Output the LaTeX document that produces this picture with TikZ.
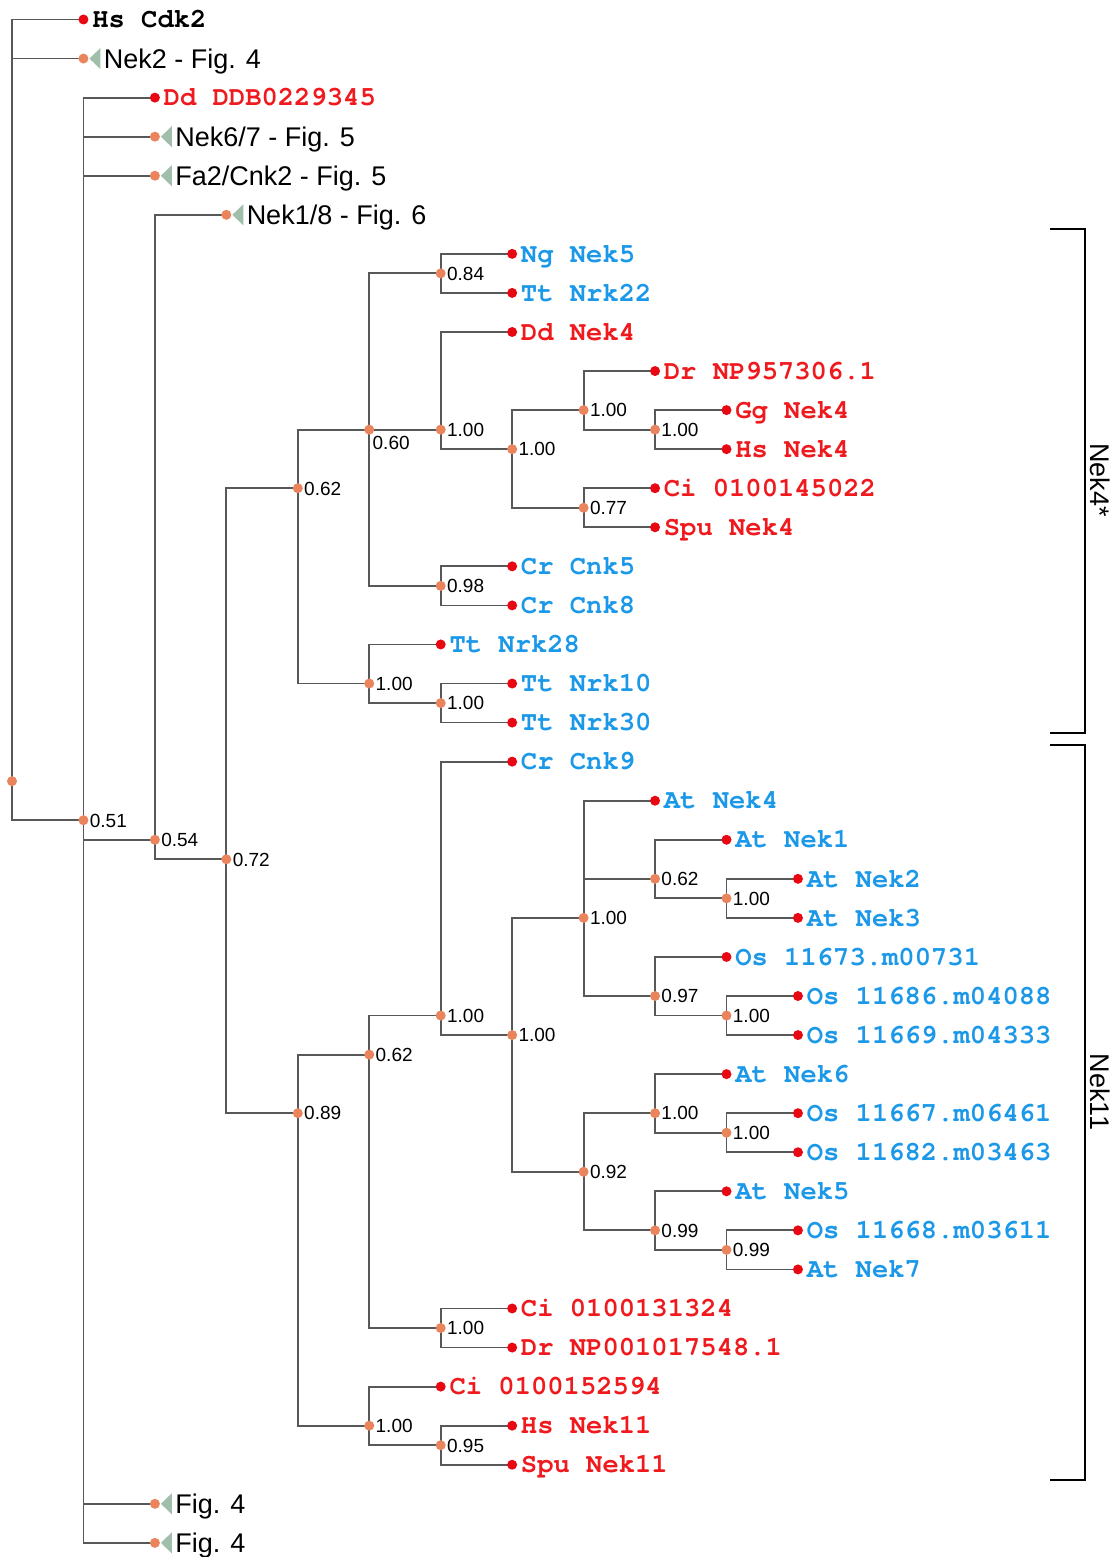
\documentclass[tikz,border=0pt]{standalone}
\usepackage{fontspec}
\setmainfont{Liberation Sans}
\newfontfamily\monofam{texgyrecursor-bold.otf}
\definecolor{linegray}{RGB}{88,88,88}
\definecolor{dotorange}{RGB}{234,132,92}
\definecolor{dotred}{RGB}{232,8,20}
\definecolor{labred}{RGB}{238,26,30}
\definecolor{labblue}{RGB}{28,152,232}
\definecolor{trigreen}{RGB}{160,190,170}
\pgfdeclarelayer{background}
\pgfsetlayers{background,main}
\tikzset{
  edge/.style={draw=linegray,line width=0.9pt},
  inode/.style={circle,fill=dotorange,inner sep=0pt,minimum size=5pt},
  tipdot/.style={circle,fill=dotred,inner sep=0pt,minimum size=5pt},
  leaflab/.style={anchor=west,inner sep=0pt,font=\monofam\fontsize{13.6}{16}\selectfont,text height=8.2pt,text depth=0pt},
  clab/.style={anchor=west,inner sep=0pt,font=\fontsize{13.5}{16}\selectfont,text height=9.7pt,text depth=0pt},
  bs/.style={anchor=west,inner sep=0pt,font=\fontsize{9.5}{11}\selectfont,text height=6.8pt,text depth=0pt},
  brlab/.style={rotate=-90,inner sep=0pt,font=\fontsize{13.5}{16}\selectfont,text height=9.7pt,text depth=0pt},
  bracket/.style={draw=black,line width=1.3pt}
}
\newcommand\mkinner[4]{\node[inode] (#1) at (#2,#3) {};\node[bs] (#1-b) at ([xshift=3pt]#1.center) {#4};}
\newcommand\mkleaf[5]{\node[tipdot] (#1) at (#2,#3) {};\node[leaflab,text=#5] (#1-t) at ([xshift=4.2pt]#1.center) {#4};}
\newcommand\mkcoll[4]{\node[inode] (#1) at (#2,#3) {};\fill[trigreen] ([xshift=3pt]#1.center) -- ([xshift=8.5pt,yshift=5.3pt]#1.center) -- ([xshift=8.5pt,yshift=-5.3pt]#1.center) -- cycle;\node[clab] (#1-t) at ([xshift=10pt]#1.center) {#4};}
\newcommand\mkkids[2]{\begin{pgfonlayer}{background}\foreach \c in {#2}{\draw[edge] (#1.center) |- (\c.center);}\end{pgfonlayer}}
\begin{document}
\begin{tikzpicture}[x={(35.725pt,0pt)},y={(0pt,-19.53pt)}]
\useasboundingbox (-6pt,9.75pt) rectangle (553pt,-768.75pt);
% root
\node[inode] (root) at (0,19.5) {};
% inner nodes
\mkinner{A}{1}{20.5}{0.51}
\mkinner{B}{2}{21}{0.54}
\mkinner{C}{3}{21.5}{0.72}
\mkinner{D}{4}{12}{0.62}
\mkinner{E}{4}{28}{0.89}
\node[inode] (F) at (5,10.5) {};
\node[bs] (F-b) at ([xshift=1.5pt,yshift=-6.3pt]F.center) {0.60};
\mkinner{G}{5}{17}{1.00}
\mkinner{H}{6}{6.5}{0.84}
\mkinner{I}{6}{10.5}{1.00}
\mkinner{J}{6}{14.5}{0.98}
\mkinner{O}{6}{17.5}{1.00}
\mkinner{K}{7}{11}{1.00}
\mkinner{L}{8}{10}{1.00}
\mkinner{M}{8}{12.5}{0.77}
\mkinner{N}{9}{10.5}{1.00}
\mkinner{P}{5}{26.5}{0.62}
\mkinner{Q}{5}{36}{1.00}
\mkinner{R}{6}{25.5}{1.00}
\mkinner{S}{6}{33.5}{1.00}
\mkinner{AE}{6}{36.5}{0.95}
\mkinner{T}{7}{26}{1.00}
\mkinner{U}{8}{23}{1.00}
\mkinner{V}{8}{29.5}{0.92}
\mkinner{W}{9}{22}{0.62}
\mkinner{X}{9}{25}{0.97}
\mkinner{AA}{9}{28}{1.00}
\mkinner{AB}{9}{31}{0.99}
\mkinner{Y}{10}{22.5}{1.00}
\mkinner{Z}{10}{25.5}{1.00}
\mkinner{AC}{10}{28.5}{1.00}
\mkinner{AD}{10}{31.5}{0.99}
% collapsed clades
\mkcoll{c1}{1}{1}{Nek2 - Fig. 4}
\mkcoll{c3}{2}{3}{Nek6/7 - Fig. 5}
\mkcoll{c4}{2}{4}{Fa2/Cnk2 - Fig. 5}
\mkcoll{c5}{3}{5}{Nek1/8 - Fig. 6}
\mkcoll{c38}{2}{38}{Fig. 4}
\mkcoll{c39}{2}{39}{Fig. 4}
% leaves
\mkleaf{l0}{1}{0}{Hs Cdk2}{black}
\mkleaf{l2}{2}{2}{Dd DDB0229345}{labred}
\mkleaf{l6}{7}{6}{Ng Nek5}{labblue}
\mkleaf{l7}{7}{7}{Tt Nrk22}{labblue}
\mkleaf{l8}{7}{8}{Dd Nek4}{labred}
\mkleaf{l9}{9}{9}{Dr NP957306.1}{labred}
\mkleaf{l10}{10}{10}{Gg Nek4}{labred}
\mkleaf{l11}{10}{11}{Hs Nek4}{labred}
\mkleaf{l12}{9}{12}{Ci 0100145022}{labred}
\mkleaf{l13}{9}{13}{Spu Nek4}{labred}
\mkleaf{l14}{7}{14}{Cr Cnk5}{labblue}
\mkleaf{l15}{7}{15}{Cr Cnk8}{labblue}
\mkleaf{l16}{6}{16}{Tt Nrk28}{labblue}
\mkleaf{l17}{7}{17}{Tt Nrk10}{labblue}
\mkleaf{l18}{7}{18}{Tt Nrk30}{labblue}
\mkleaf{l19}{7}{19}{Cr Cnk9}{labblue}
\mkleaf{l20}{9}{20}{At Nek4}{labblue}
\mkleaf{l21}{10}{21}{At Nek1}{labblue}
\mkleaf{l22}{11}{22}{At Nek2}{labblue}
\mkleaf{l23}{11}{23}{At Nek3}{labblue}
\mkleaf{l24}{10}{24}{Os 11673.m00731}{labblue}
\mkleaf{l25}{11}{25}{Os 11686.m04088}{labblue}
\mkleaf{l26}{11}{26}{Os 11669.m04333}{labblue}
\mkleaf{l27}{10}{27}{At Nek6}{labblue}
\mkleaf{l28}{11}{28}{Os 11667.m06461}{labblue}
\mkleaf{l29}{11}{29}{Os 11682.m03463}{labblue}
\mkleaf{l30}{10}{30}{At Nek5}{labblue}
\mkleaf{l31}{11}{31}{Os 11668.m03611}{labblue}
\mkleaf{l32}{11}{32}{At Nek7}{labblue}
\mkleaf{l33}{7}{33}{Ci 0100131324}{labred}
\mkleaf{l34}{7}{34}{Dr NP001017548.1}{labred}
\mkleaf{l35}{6}{35}{Ci 0100152594}{labred}
\mkleaf{l36}{7}{36}{Hs Nek11}{labred}
\mkleaf{l37}{7}{37}{Spu Nek11}{labred}
% connectors
\mkkids{root}{l0,c1,A}
\mkkids{A}{l2,c3,c4,B,c38,c39}
\mkkids{B}{c5,C}
\mkkids{C}{D,E}
\mkkids{D}{F,G}
\mkkids{F}{H,I,J}
\mkkids{H}{l6,l7}
\mkkids{I}{l8,K}
\mkkids{K}{L,M}
\mkkids{L}{l9,N}
\mkkids{N}{l10,l11}
\mkkids{M}{l12,l13}
\mkkids{J}{l14,l15}
\mkkids{G}{l16,O}
\mkkids{O}{l17,l18}
\mkkids{E}{P,Q}
\mkkids{P}{R,S}
\mkkids{R}{l19,T}
\mkkids{T}{U,V}
\mkkids{U}{l20,W,X}
\mkkids{W}{l21,Y}
\mkkids{Y}{l22,l23}
\mkkids{X}{l24,Z}
\mkkids{Z}{l25,l26}
\mkkids{V}{AA,AB}
\mkkids{AA}{l27,AC}
\mkkids{AC}{l28,l29}
\mkkids{AB}{l30,AD}
\mkkids{AD}{l31,l32}
\mkkids{S}{l33,l34}
\mkkids{Q}{l35,AE}
\mkkids{AE}{l36,l37}
% brackets
\draw[bracket] (519pt,-104.75pt) -- (536.5pt,-104.75pt) -- (536.5pt,-356.75pt) -- (519pt,-356.75pt);
\node[brlab] (nek4lab) at (544pt,-230.25pt) {Nek4*};
\draw[bracket] (519pt,-362.75pt) -- (536.5pt,-362.75pt) -- (536.5pt,-730.25pt) -- (519pt,-730.25pt);
\node[brlab] (nek11lab) at (544pt,-536.25pt) {Nek11};
\end{tikzpicture}
\end{document}
